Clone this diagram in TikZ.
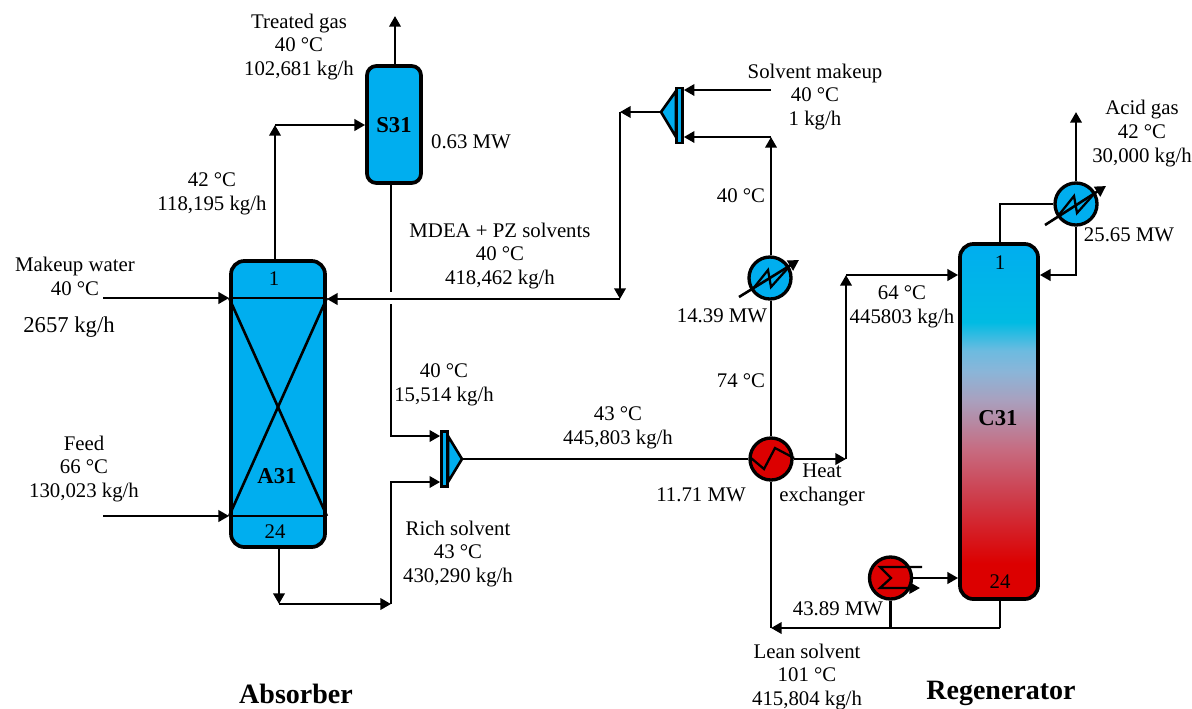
\documentclass[tikz,border=0pt]{standalone}
\usepackage{fontspec}
\setmainfont{Liberation Serif}
\usetikzlibrary{arrows.meta}

\definecolor{procblue}{HTML}{00AEEF}
\definecolor{procred}{HTML}{DC0000}
\definecolor{grada}{HTML}{CE3A48}
\definecolor{gradb}{HTML}{C76B80}
\definecolor{gradc}{HTML}{A9A0BE}
\definecolor{gradd}{HTML}{8BB5D8}
\definecolor{grade}{HTML}{6CBBE0}
\definecolor{gradf}{HTML}{00BBE3}
\pgfdeclareverticalshading{regengrad}{100bp}{
  color(0bp)=(procred); color(25bp)=(procred); color(30bp)=(procred);
  color(39bp)=(grada); color(46bp)=(gradb); color(53bp)=(gradc);
  color(57bp)=(gradd); color(60bp)=(grade); color(64bp)=(gradf);
  color(75bp)=(procblue); color(100bp)=(procblue)}

\begin{document}
\begin{tikzpicture}[x=0.75pt, y=-0.75pt, >={Triangle[length=8pt,width=8.5pt]},
    flow/.style={line width=1.95pt, line join=miter},
    tower/.style={draw, line width=2.8pt, rounded corners=10pt, fill=procblue, inner sep=0pt},
    hx/.style={circle, draw, line width=2.5pt, minimum size=31.5pt, inner sep=0pt, fill=procblue},
    hot/.style={hx, fill=procred},
    mixbar/.style={draw, line width=1.95pt, fill=procblue, minimum width=4.5pt, minimum height=41.5pt, inner sep=0pt},
    icon/.style={line width=1.7pt},
    lbl/.style={align=center, inner sep=0pt, font=\fontsize{15.6}{17.8}\selectfont},
    tag/.style={inner sep=0pt, font=\fontsize{15.6}{17.8}\selectfont},
    eqname/.style={inner sep=0pt, font=\fontsize{17}{17.8}\selectfont\bfseries},
    sectname/.style={inner sep=0pt, font=\fontsize{21}{24}\selectfont\bfseries}]

    \useasboundingbox (0,0) rectangle (1192,708);

    % columns
    \node[tower, minimum width=70.5pt, minimum height=214.5pt] (a31) at (278,404) {};
    \node[tower, minimum width=40.5pt, minimum height=87.75pt, rounded corners=7pt] (s31) at (394,124.5) {};
    \node[tower, minimum width=58.5pt, minimum height=266.25pt, shading=regengrad, shading angle=0] (c31) at (999,421.5) {};

    \draw[flow] (a31.west |- 0,298) coordinate (a31up) -- (a31.east |- 0,298) coordinate (a31upr);
    \draw[flow] (a31.west |- 0,516) coordinate (a31lo) -- (a31.east |- 0,516) coordinate (a31lor);
    \draw[flow] (a31up) -- (a31lor);
    \draw[flow] (a31upr) -- (a31lo);

    \node[tag] (a1) at (274,279) {1};
    \node[eqname] (a2) at (277,476) {A31};
    \node[tag] (a3) at (275,532) {24};
    \node[eqname] (s1) at (394,125) {S31};
    \node[tag] (c1) at (1000,263) {1};
    \node[eqname] (c2) at (998,418) {C31};
    \node[tag] (c3) at (1000,582) {24};

    % mixers
    \node[mixbar] (mix1) at (444.5,459) {};
    \coordinate (mix1tip) at (462,459);
    \draw[flow, fill=procblue] (448,436) -- (mix1tip) -- (448,482) -- cycle;
    \node[mixbar] (mix2) at (679.5,115.5) {};
    \coordinate (mix2tip) at (661,112);
    \draw[flow, fill=procblue] (676,91) -- (mix2tip) -- (676,137) -- cycle;

    % heat exchangers
    \node[hot] (hx1) at (771,459) {};
    \node[hx] (cool1) at (770,278) {};
    \node[hx] (cond1) at (1076,204) {};
    \node[hot] (reb1) at (890.5,578) {};

    \draw[icon] (751,458) -- (764,469) -- (775,448) -- (794,458);
    \draw[icon] (752,290) -- (768,270) -- (771,287) -- (788,268);
    \draw[flow, ->] (739,297) -- (799,260);
    \draw[icon] (1058,216) -- (1074,196) -- (1077,213) -- (1094,194);
    \draw[flow, ->] (1045,225) -- (1106,186);
    \draw[icon] (922,567) -- (880,567) -- (891,578) -- (880,588) -- (910,588);
    \draw[icon, ->] (910,588) -- (920,588);

    % absorber side
    \coordinate (ain) at (103,298);
    \coordinate (fin) at (103,516);
    \coordinate (tgas) at (395,16);
    \coordinate (abend) at (275,125);
    \coordinate (bbend) at (279,604);
    \coordinate (rbend) at (391,604);
    \coordinate (gap1) at (391,292);
    \coordinate (gap2) at (391,304);

    \draw[flow, ->] (ain) -- (a31up);
    \draw[flow, ->] (fin) -- (a31lo);
    \draw[flow, ->] (s31.north -| tgas) -- (tgas);
    \draw[flow, ->] (a31.north -| abend) -- (abend);
    \draw[flow, ->] (abend) -- (s31.west |- abend);
    \draw[flow, ->] (a31.south -| bbend) -- (bbend);
    \draw[flow, ->] (bbend) -- (rbend);
    \draw[flow] (s31.south -| gap1) -- (gap1);
    \draw[flow, ->] (gap2) |- (mix1.west |- 0,436);
    \draw[flow, ->] (rbend) |- (mix1.west |- 0,482);
    \draw[flow] (mix1tip) -- (hx1.west);

    % solvent loop
    \coordinate (hbend) at (846,275);
    \coordinate (hmid) at (846,459);
    \coordinate (mbend) at (620,112);
    \coordinate (mjoin) at (620,299);
    \coordinate (cbend) at (771,137);
    \coordinate (smk) at (771,90);
    \coordinate (lbend) at (771,628);
    \coordinate (cbot) at (1000,628);
    \coordinate (rjoin) at (890.5,628);
    \coordinate (agas) at (1076,112);
    \coordinate (ctop) at (1000,204);

    \draw[flow, ->] (hx1.east) -- (hmid);
    \draw[flow, ->] (hmid) -- (hbend);
    \draw[flow, ->] (hbend) -- (c31.west |- hbend);
    \draw[flow] (hx1.north) -- (cool1.south -| hx1);
    \draw[flow, ->] (cool1.north -| hx1) -- (cbend);
    \draw[flow, ->] (cbend) -- (mix2.east |- cbend);
    \draw[flow, ->] (smk) -- (mix2.east |- smk);
    \draw[flow, ->] (mix2tip) -- (mbend);
    \draw[flow, ->] (mbend) -- (mjoin);
    \draw[flow, ->] (mjoin) -- (a31.east |- mjoin);
    \draw[flow, ->] (cbot) -- (lbend);
    \draw[flow] (c31.south -| cbot) -- (cbot);
    \draw[flow] (lbend) -- (hx1.south -| lbend);
    \draw[flow] (reb1.south) -- (rjoin);
    \draw[flow, ->] (reb1.east) -- (c31.west |- reb1);
    \draw[flow] (c31.north -| ctop) -- (ctop) -- (cond1.west);
    \draw[flow, ->] (cond1.north) -- (agas);
    \draw[flow, ->] (cond1.south) |- (c31.east |- hbend);

    % stream labels
    \node[lbl] (t1) at (299,47) {Treated gas\\40 °C\\102,681 kg/h};
    \node[tag] (t2) at (471,142) {0.63 MW};
    \node[lbl] (t3) at (212,194) {42 °C\\118,195 kg/h};
    \node[lbl] (t4) at (75,276.5) {Makeup water\\40 °C};
    \node[tag, font=\fontsize{17}{17.8}\selectfont] (t5) at (69,327) {2657 kg/h};
    \node[lbl] (t6) at (500,256) {MDEA + PZ solvents\\40 °C\\418,462 kg/h};
    \node[lbl] (t7) at (444,384.5) {40 °C\\15,514 kg/h};
    \node[lbl] (t8) at (618,427.5) {43 °C\\445,803 kg/h};
    \node[lbl] (t9) at (84,469) {Feed\\66 °C\\130,023 kg/h};
    \node[lbl] (t10) at (458,554) {Rich solvent\\43 °C\\430,290 kg/h};
    \node[lbl] (t11) at (815,97) {Solvent makeup\\40 °C\\1 kg/h};
    \node[tag] (t12) at (741,196) {40 °C};
    \node[tag] (t13) at (722,316) {14.39 MW};
    \node[tag] (t14) at (741,381) {74 °C};
    \node[tag] (t15) at (701,495) {11.71 MW};
    \node[lbl] (t16) at (822,485) {Heat\\exchanger};
    \node[lbl] (t17) at (902,306.5) {64 °C\\445803 kg/h};
    \node[tag] (t18) at (1129,235) {25.65 MW};
    \node[lbl] (t19) at (1142,133.5) {Acid gas\\42 °C\\30,000 kg/h};
    \node[tag] (t20) at (838,609) {43.89 MW};
    \node[lbl] (t21) at (807,677) {Lean solvent\\101 °C\\415,804 kg/h};
    \node[sectname] (abs) at (296,694) {Absorber};
    \node[sectname] (reg) at (1001,693) {Regenerator};
\end{tikzpicture}
\end{document}
